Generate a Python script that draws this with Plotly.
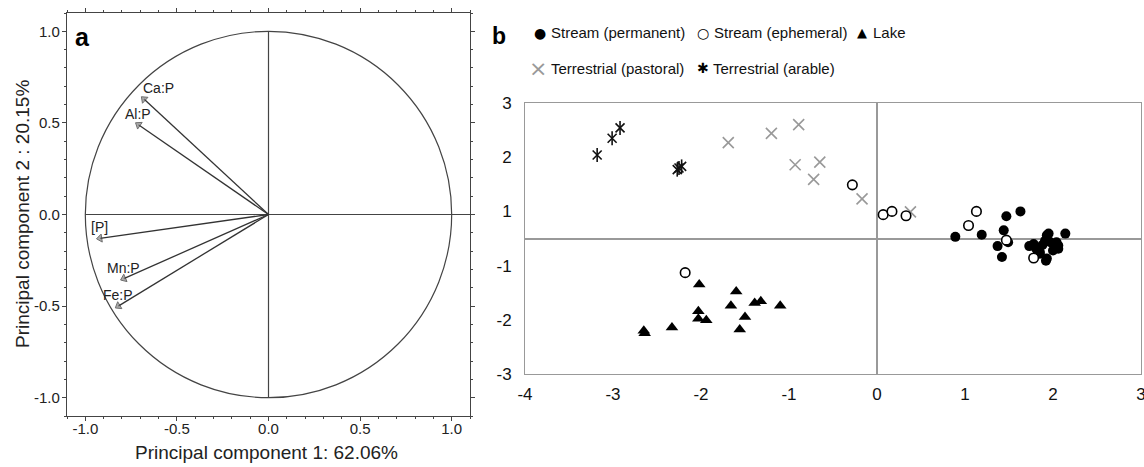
import plotly.graph_objects as go

W, H = 1144, 467

# ---------------- Panel a: PCA loadings ----------------
loading_vars = ["Ca:P", "Al:P", "[P]", "Mn:P", "Fe:P"]
loading_pc1 = [-0.68, -0.71, -0.92, -0.79, -0.82]
loading_pc2 = [0.63, 0.49, -0.13, -0.35, -0.50]
label_xanchor = ["left", "center", "center", "center", "center"]
a_ticks = [-1.0, -0.5, 0.0, 0.5, 1.0]
a_ticktext = ["-1.0", "-0.5", "0.0", "0.5", "1.0"]

# ---------------- Panel b: PCA scores (axis units as drawn) ----------------
perm_x = [0.89, 1.19, 1.47, 1.63, 1.44, 1.37, 1.42, 1.49, 1.73, 1.81, 1.93, 1.97, 2.00,
          1.92, 1.85, 2.06, 2.14, 1.78, 1.95, 1.91, 2.04, 2.06, 1.85, 1.93, 1.82, 1.88]
perm_y = [0.03, 0.07, 0.41, 0.50, 0.15, -0.14, -0.34, -0.07, -0.14, -0.19, 0.06, -0.07, -0.22,
          -0.41, -0.28, -0.13, 0.09, -0.10, 0.09, -0.04, -0.07, -0.19, -0.25, -0.37, -0.20, -0.12]
ephem_x = [-0.28, 0.07, 0.17, 0.33, 1.13, 1.04, 1.47, 1.78, -2.18]
ephem_y = [0.99, 0.44, 0.50, 0.42, 0.50, 0.24, -0.03, -0.36, -0.63]
lake_x = [-2.02, -1.60, -1.66, -1.39, -1.32, -1.10, -2.03, -2.03, -1.94, -1.50, -1.56,
          -2.33, -2.65, -2.64]
lake_y = [-0.85, -0.98, -1.24, -1.19, -1.16, -1.24, -1.34, -1.48, -1.51, -1.45, -1.68,
          -1.64, -1.70, -1.75]
past_x = [-1.69, -1.20, -0.89, -0.93, -0.65, -0.72, -0.17, 0.38]
past_y = [1.77, 1.94, 2.10, 1.36, 1.41, 1.09, 0.73, 0.49]
arab_x = [-3.18, -3.01, -2.92, -2.27, -2.22, -2.25]
arab_y = [1.54, 1.85, 2.04, 1.27, 1.33, 1.30]

b_xticks = [-4, -3, -2, -1, 0, 1, 2, 3]
b_xticktext = ["-4", "-3", "-2", "-1", "0", "1", "2", "3"]
b_yticks = [-2.5, -1.5, -0.5, 0.5, 1.5, 2.5]
b_yticktext = ["-3", "-2", "-1", "1", "2", "3"]
b_axis_xticks = [-3, -2, -1, 1, 2]
b_axis_yticks = [-1.5, -0.5, 0.5, 1.5]

legend_row1 = ["Stream (permanent)", "Stream (ephemeral)", "Lake"]
legend_row2 = ["Terrestrial (pastoral)", "Terrestrial (arable)"]

FA = "Liberation Sans, Arial, sans-serif"
FB = "Liberation Sans, Arial, sans-serif"

def px_x(p):
    return p / W

def px_y(p):
    return 1 - p / H

fig = go.Figure()

# loadings vectors
for name, x1, y1 in zip(loading_vars, loading_pc1, loading_pc2):
    fig.add_trace(go.Scatter(
        x=[0, x1], y=[0, y1], mode="lines+markers", xaxis="x", yaxis="y",
        line=dict(color="#333333", width=1.3),
        marker=dict(symbol="triangle-up", size=[0, 7], angleref="previous",
                    color="#888888"),
        showlegend=False, hoverinfo="skip", name=name))

# scores
fig.add_trace(go.Scatter(x=past_x, y=past_y, mode="markers", xaxis="x2", yaxis="y2",
                         marker=dict(symbol="x-thin-open", size=11, color="#999999",
                                     line=dict(width=1.6, color="#999999")),
                         name=legend_row2[0], showlegend=False))
fig.add_trace(go.Scatter(x=arab_x, y=arab_y, mode="markers", xaxis="x2", yaxis="y2",
                         marker=dict(symbol="x-thin-open", size=9, color="#111111",
                                     line=dict(width=1.6, color="#111111")),
                         name=legend_row2[1], showlegend=False))
fig.add_trace(go.Scatter(x=arab_x, y=arab_y, mode="markers", xaxis="x2", yaxis="y2",
                         marker=dict(symbol="line-ns-open", size=10, color="#111111",
                                     line=dict(width=1.6, color="#111111")),
                         name=legend_row2[1], showlegend=False))
fig.add_trace(go.Scatter(x=lake_x, y=lake_y, mode="markers", xaxis="x2", yaxis="y2",
                         marker=dict(symbol="triangle-up", size=11, color="black"),
                         name=legend_row1[2], showlegend=False))
fig.add_trace(go.Scatter(x=perm_x, y=perm_y, mode="markers", xaxis="x2", yaxis="y2",
                         marker=dict(symbol="circle", size=10, color="black"),
                         name=legend_row1[0], showlegend=False))
fig.add_trace(go.Scatter(x=ephem_x, y=ephem_y, mode="markers", xaxis="x2", yaxis="y2",
                         marker=dict(symbol="circle", size=9.5, color="white",
                                     line=dict(width=1.6, color="black")),
                         name=legend_row1[1], showlegend=False))

shapes = [
    dict(type="circle", xref="x", yref="y", x0=-1, y0=-1, x1=1, y1=1,
         line=dict(color="#444444", width=1.2), layer="below"),
    dict(type="line", xref="x", yref="y", x0=-1, y0=0, x1=1.1, y1=0,
         line=dict(color="#444444", width=1.2), layer="below"),
    dict(type="line", xref="x", yref="y", x0=0, y0=-1, x1=0, y1=1,
         line=dict(color="#444444", width=1.2), layer="below"),
]

annotations = []
for name, x1, y1, xa in zip(loading_vars, loading_pc1, loading_pc2, label_xanchor):
    annotations.append(dict(x=x1, y=y1, xref="x", yref="y", text=name, showarrow=False,
                            xanchor=xa, yanchor="bottom", yshift=1,
                            xshift=-3 if xa == "left" else 0,
                            font=dict(family=FA, size=14, color="#222222")))

annotations += [
    dict(x=px_x(82), y=px_y(37), xref="paper", yref="paper", text="<b>a</b>",
         xanchor="center", yanchor="middle",
         showarrow=False, font=dict(family=FA, size=25, color="black")),
    dict(x=px_x(499), y=px_y(36), xref="paper", yref="paper", text="<b>b</b>",
         xanchor="center", yanchor="middle",
         showarrow=False, font=dict(family=FA, size=23, color="black")),
    dict(x=px_x(266), y=px_y(452), xref="paper", yref="paper",
         text="Principal component 1: 62.06%", showarrow=False,
         xanchor="center", yanchor="middle",
         font=dict(family=FA, size=19, color="#222222")),
    dict(x=px_x(22), y=px_y(214), xref="paper", yref="paper",
         text="Principal component 2 : 20.15%", showarrow=False, textangle=-90,
         xanchor="center", yanchor="middle",
         font=dict(family=FA, size=19, color="#222222")),
]

# legend of panel b (text entries)
leg_sym = ["●", "○", "▲", "×", "✱"]
leg_sym_col = ["black", "black", "black", "#999999", "black"]
leg_sym_size = [14, 14, 13, 22, 14]
leg_text = legend_row1 + legend_row2
leg_sym_x = [540, 703, 862, 538, 703]
leg_txt_x = [549, 712, 871, 549, 711]
leg_y = [33, 33, 33, 68, 68]
for s, c, sz, t, sx, tx, y in zip(leg_sym, leg_sym_col, leg_sym_size, leg_text,
                                   leg_sym_x, leg_txt_x, leg_y):
    annotations.append(dict(x=px_x(sx), y=px_y(y), xref="paper", yref="paper", text=s,
                            showarrow=False, xanchor="center", yanchor="middle",
                            font=dict(family="DejaVu Sans", size=sz, color=c)))
    annotations.append(dict(x=px_x(tx), y=px_y(y), xref="paper", yref="paper", text=t,
                            showarrow=False, xanchor="left", yanchor="middle",
                            font=dict(family=FB, size=15, color="#111111")))

fig.update_layout(
    width=W, height=H, margin=dict(l=0, r=0, t=0, b=0, autoexpand=False),
    paper_bgcolor="white", plot_bgcolor="white", showlegend=False,
    shapes=shapes, annotations=annotations,
    xaxis=dict(domain=[px_x(67), px_x(470)], range=[-1.1, 1.1], anchor="y",
               automargin=False, ticklabelstandoff=-5,
               tickvals=a_ticks, ticktext=a_ticktext, ticks="outside", ticklen=4,
               tickcolor="#444444", showline=True, linecolor="#444444", linewidth=1.2,
               mirror="ticks", showgrid=False, zeroline=False,
               minor=dict(dtick=0.1, ticks="outside", ticklen=2, tickcolor="#444444"),
               tickfont=dict(family=FA, size=15, color="#222222")),
    yaxis=dict(domain=[px_y(416), px_y(13)], range=[-1.1, 1.1], anchor="x",
               automargin=False, ticklabelstandoff=-1,
               tickvals=a_ticks, ticktext=a_ticktext, ticks="outside", ticklen=4,
               tickcolor="#444444", showline=True, linecolor="#444444", linewidth=1.2,
               mirror="ticks", showgrid=False, zeroline=False,
               minor=dict(dtick=0.1, ticks="outside", ticklen=2, tickcolor="#444444"),
               tickfont=dict(family=FA, size=15, color="#222222")),
    xaxis2=dict(domain=[px_x(525), px_x(1141)], range=[-4, 3], anchor="y2",
                automargin=False, ticklabeloverflow="allow",
                tickvals=b_xticks, ticktext=b_xticktext, ticks="", showline=True,
                linecolor="#999999", linewidth=1, mirror=True, showgrid=False,
                zeroline=True, zerolinecolor="#999999", zerolinewidth=1.5,
                ticklabelstandoff=5,
                tickfont=dict(family=FB, size=17, color="#111111")),
    yaxis2=dict(domain=[px_y(374), px_y(103)], range=[-2.5, 2.5], anchor="x2",
                automargin=False,
                tickvals=b_yticks, ticktext=b_yticktext, ticks="", showline=True,
                linecolor="#999999", linewidth=1, mirror=True, showgrid=False,
                zeroline=True, zerolinecolor="#999999", zerolinewidth=1.5,
                ticklabelstandoff=9,
                tickfont=dict(family=FB, size=17, color="#111111")),
    xaxis3=dict(overlaying="x2", anchor="free", position=px_y(238), range=[-4, 3],
                automargin=False,
                tickvals=b_axis_xticks, ticks="outside", ticklen=5, tickcolor="#999999",
                showticklabels=False, showline=False, showgrid=False, zeroline=False,
                side="bottom"),
    yaxis3=dict(overlaying="y2", anchor="free", position=px_x(877), range=[-2.5, 2.5],
                automargin=False,
                tickvals=b_axis_yticks, ticks="outside", ticklen=4, tickcolor="#999999",
                showticklabels=False, showline=False, showgrid=False, zeroline=False,
                side="left"),
)

fig.write_html("out.html")
